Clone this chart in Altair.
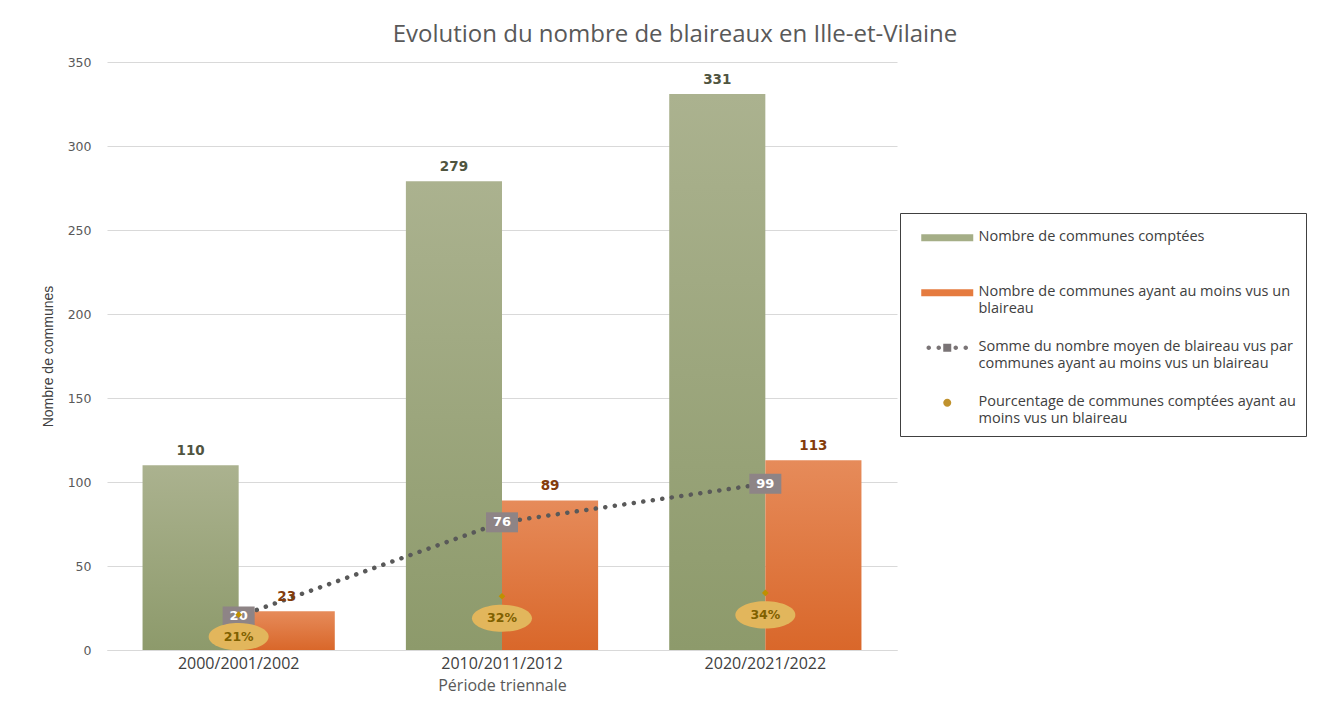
import altair as alt
import pandas as pd

# ---------------- data ----------------
periodes = ["2000/2001/2002", "2010/2011/2012", "2020/2021/2022"]
communes_comptees = [110, 279, 331]
communes_positives = [23, 89, 113]
somme_moyenne = [20, 76, 99]
pourcentage = [21, 32, 34]

S1 = "Nombre de communes comptées"
S2 = "Nombre de communes ayant au moins vus un blaireau"
S3 = "Somme du nombre moyen de blaireau vus par communes ayant au moins vus un blaireau"
S4 = "Pourcentage de communes comptées ayant au moins vus un blaireau"
series = [S1, S2, S3, S4]
legend_lines = {
    S1: ["Nombre de communes comptées"],
    S2: ["Nombre de communes ayant au moins vus un", "blaireau"],
    S3: ["Somme du nombre moyen de blaireau vus par", "communes ayant au moins vus un blaireau"],
    S4: ["Pourcentage de communes comptées ayant au", "moins vus un blaireau"],
}

bars = pd.DataFrame(
    {"periode": periodes * 2,
     "serie": [S1] * 3 + [S2] * 3,
     "valeur": communes_comptees + communes_positives}
)
line_df = pd.DataFrame({"periode": periodes, "somme": somme_moyenne})
pct_df = pd.DataFrame({"periode": periodes, "pct": pourcentage,
                       "pct_label": [f"{p}%" for p in pourcentage]})
legend_df = pd.DataFrame({"serie": series})

# ---------------- styles ----------------
FONT = "Open Sans"
GREEN_TXT = "#50553f"
ORANGE_TXT = "#843c0c"
green_grad = alt.Gradient(
    gradient="linear", x1=0, x2=0, y1=0, y2=1,
    stops=[alt.GradientStop(color="#abb28f", offset=0),
           alt.GradientStop(color="#8d9a6b", offset=1)])
orange_grad = alt.Gradient(
    gradient="linear", x1=0, x2=0, y1=0, y2=1,
    stops=[alt.GradientStop(color="#e68b5a", offset=0),
           alt.GradientStop(color="#d9672a", offset=1)])

x_enc = alt.X(
    "periode:N", sort=periodes,
    scale=alt.Scale(paddingInner=0.27, paddingOuter=0.135),
    axis=alt.Axis(title="Période triennale", labelAngle=0, ticks=False,
                  domainColor="#d9d9d9", labelFont=FONT, labelFontSize=16,
                  labelColor="#404040", labelPadding=5, titleFont=FONT,
                  titleFontSize=16, titleFontWeight="normal", titleColor="#595959",
                  titlePadding=6),
)
xoff = alt.XOffset("serie:N", sort=[S1, S2],
                   scale=alt.Scale(domain=[S1, S2], paddingInner=0, paddingOuter=0))
y_scale = alt.Scale(domain=[0, 350])
y_axis = alt.Axis(title="Nombre de communes", values=list(range(0, 351, 50)),
                  ticks=False, domain=False, gridColor="#d9d9d9",
                  labelFont="DejaVu Sans", labelFontSize=12.5, labelColor="#595959",
                  labelPadding=16, titleFont="Liberation Sans",
                  titleFontSize=14, titleFontWeight="normal", titleColor="#404040",
                  titlePadding=12)

base_bar = alt.Chart(bars).encode(
    x=x_enc, xOffset=xoff,
    y=alt.Y("valeur:Q", scale=y_scale, axis=y_axis),
)
bar_green = base_bar.transform_filter(alt.datum.serie == S1).mark_bar(color=green_grad)
bar_orange = base_bar.transform_filter(alt.datum.serie == S2).mark_bar(color=orange_grad)
lab_green = base_bar.transform_filter(alt.datum.serie == S1).mark_text(
    dy=-14, font="DejaVu Sans", fontSize=13.5, fontWeight="bold", color=GREEN_TXT
).encode(text="valeur:Q")
lab_orange = base_bar.transform_filter(alt.datum.serie == S2).mark_text(
    dy=-14, font="DejaVu Sans", fontSize=13.5, fontWeight="bold", color=ORANGE_TXT
).encode(text="valeur:Q")

line_base = alt.Chart(line_df).encode(x=alt.X("periode:N", sort=periodes),
                                      y=alt.Y("somme:Q"))
dotted = line_base.mark_line(color="#595959", strokeWidth=4.5,
                             strokeDash=[0.1, 9.5], strokeCap="round")
boxes = line_base.mark_point(shape="M-1.6,-1H1.6V1H-1.6Z", size=400, filled=True,
                             color="#8e8486", opacity=1)
box_txt = line_base.mark_text(font="DejaVu Sans", fontSize=13, fontWeight="bold",
                              color="white").encode(text="somme:Q")

pct_base = alt.Chart(pct_df).encode(x=alt.X("periode:N", sort=periodes),
                                    y=alt.Y("pct:Q"))
pct_pt = pct_base.mark_point(shape="diamond", size=45, filled=True,
                             color="#bf9000", opacity=1)
ellipse = pct_base.mark_point(
    shape="M-1.5,1.1A1.5,0.68 0 1,0 1.5,1.1A1.5,0.68 0 1,0 -1.5,1.1Z",
    size=1600, filled=True, color="#e2b65c", opacity=1)
pct_txt = pct_base.mark_text(dy=22, font="DejaVu Sans", fontSize=12.5,
                             fontWeight="bold", color="#7f6000").encode(text="pct_label:N")

# legend carrier (invisible marks, legend only)
SH = 1.5  # vertical shift of legend symbols so they sit on the first label line
shape_bar = f"M0,{SH-0.7}H10.4V{SH+0.7}H0Z"


def _dot(cx, r):
    return f"M{cx - r},{SH}a{r},{r} 0 1,0 {2*r},0a{r},{r} 0 1,0 {-2*r},0Z"


shape_dots = (_dot(1.5, 0.45) + _dot(3.5, 0.45)
              + f"M4.4,{SH-0.8}H6V{SH+0.8}H4.4Z"
              + _dot(6.9, 0.45) + _dot(8.9, 0.45))
shape_dot = _dot(5.2, 0.8)
label_expr = " : ".join(
    [f"datum.label == '{k}' ? [{', '.join(repr(s) for s in v)}]" for k, v in legend_lines.items()]
) + " : datum.label"

legend_layer = alt.Chart(legend_df).mark_point(filled=True, opacity=0).encode(
    color=alt.Color("serie:N", sort=series,
                    scale=alt.Scale(domain=series,
                                    range=["#a5ae87", "#e57b3f", "#7a7476", "#c0922e"]),
                    legend=alt.Legend(
                        title=None, orient="none", legendX=793, legendY=151,
                        direction="vertical", strokeColor="#404040", padding=10,
                        symbolSize=100, symbolOffset=4, labelOffset=50,
                        labelFont=FONT, labelFontSize=14.5, labelColor="#404040",
                        labelLimit=500, rowPadding=17, gridAlign="all",
                        symbolOpacity=1, symbolStrokeWidth=0, labelBaseline="top",
                        labelExpr=label_expr)),
    shape=alt.Shape("serie:N", sort=series,
                    scale=alt.Scale(domain=series,
                                    range=[shape_bar, shape_bar, shape_dots, shape_dot]),
                    legend=None),
)

chart = alt.layer(
    bar_green, bar_orange, dotted, lab_green, lab_orange,
    boxes, box_txt, pct_pt, ellipse, pct_txt, legend_layer,
).properties(
    width=790, height=588,
    title=alt.TitleParams("Evolution du nombre de blaireaux en Ille-et-Vilaine",
                          font=FONT, fontSize=24, fontWeight="normal", color="#595959",
                          anchor="middle", dx=173, offset=9),
    padding={"left": 33, "top": 15, "right": 0, "bottom": 3},
).configure(background="white", view=alt.ViewConfig(stroke=None),
            style={"guide-label": {"lineHeight": 17}})

chart.save("out.html", embed_options={"renderer": "svg", "actions": False})
